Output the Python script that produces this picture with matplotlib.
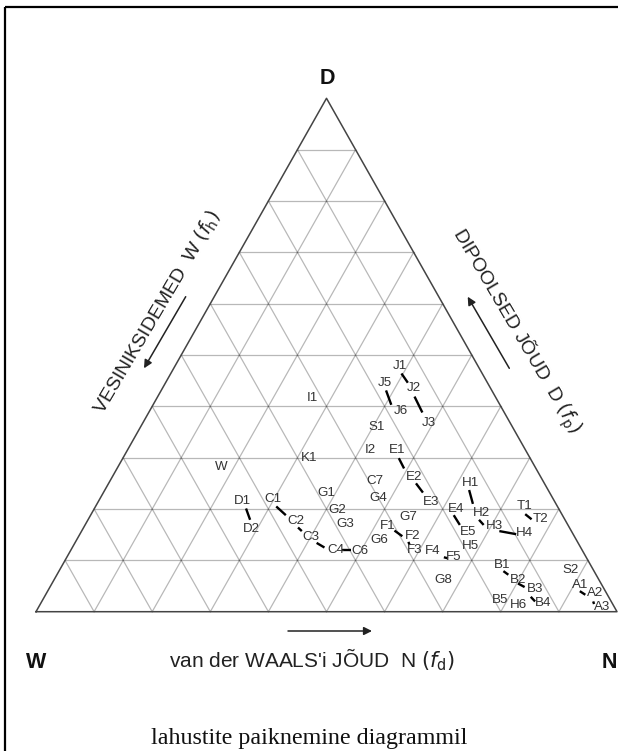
import matplotlib
matplotlib.use("Agg")
import matplotlib.pyplot as plt
import numpy as np

plt.rcParams['font.family'] = ['Liberation Sans', 'DejaVu Sans']
plt.rcParams['mathtext.fontset'] = 'dejavusans'

# ---- data: solvent label positions in ternary fractions (fd, fp); fh = 1 - fd - fp
names = ["J1", "J5", "J2", "I1", "J6", "J3", "S1", "I2", "E1", "K1", "W",
         "C7", "E2", "D1", "C1", "G1", "G4", "E3", "G2", "D2", "C2", "G3",
         "G7", "F1", "F2", "C3", "G6", "C4", "C6", "F3", "F4", "G8",
         "H1", "E4", "H2", "T1", "T2", "E5", "H3", "H4", "H5", "F5",
         "B1", "S2", "B2", "B3", "A1", "A2", "B5", "H6", "B4", "A3"]
fd = [0.386, 0.378, 0.432, 0.267, 0.432, 0.492, 0.407, 0.418, 0.465, 0.320, 0.178,
      0.455, 0.519, 0.247, 0.299, 0.384, 0.478, 0.573, 0.420, 0.291, 0.359, 0.448,
      0.549, 0.522, 0.574, 0.400, 0.521, 0.456, 0.499, 0.592, 0.623, 0.670,
      0.623, 0.622, 0.670, 0.738, 0.778, 0.666, 0.705, 0.765, 0.684, 0.666,
      0.756, 0.880, 0.799, 0.837, 0.910, 0.944, 0.787, 0.824, 0.865, 0.969]
fp = [0.479, 0.445, 0.435, 0.417, 0.391, 0.367, 0.359, 0.314, 0.314, 0.300, 0.282,
      0.255, 0.263, 0.216, 0.219, 0.231, 0.221, 0.214, 0.198, 0.161, 0.177, 0.170,
      0.184, 0.166, 0.147, 0.146, 0.140, 0.120, 0.118, 0.120, 0.119, 0.061,
      0.251, 0.201, 0.193, 0.205, 0.180, 0.156, 0.167, 0.153, 0.127, 0.107,
      0.091, 0.081, 0.062, 0.044, 0.052, 0.036, 0.023, 0.013, 0.016, 0.010]

# ---- connecting segments (start fd, start fp, end fd, end fp)
seg_fd0 = [0.397, 0.387, 0.442, 0.475, 0.529, 0.261, 0.311, 0.369, 0.416, 0.467,
           0.538, 0.573, 0.649, 0.627, 0.625, 0.673, 0.719, 0.747, 0.765, 0.802,
           0.837, 0.916, 0.949]
seg_fp0 = [0.464, 0.431, 0.419, 0.299, 0.250, 0.201, 0.205, 0.164, 0.134, 0.120,
           0.158, 0.136, 0.106, 0.237, 0.188, 0.179, 0.157, 0.190, 0.079, 0.055,
           0.029, 0.040, 0.020]
seg_fd1 = [0.417, 0.410, 0.471, 0.494, 0.550, 0.279, 0.336, 0.379, 0.434, 0.483,
           0.557, 0.578, 0.657, 0.647, 0.645, 0.686, 0.751, 0.763, 0.777, 0.817,
           0.849, 0.929, 0.953]
seg_fp1 = [0.446, 0.403, 0.388, 0.279, 0.232, 0.179, 0.188, 0.157, 0.125, 0.120,
           0.147, 0.130, 0.104, 0.210, 0.169, 0.169, 0.151, 0.180, 0.072, 0.048,
           0.020, 0.033, 0.015]

n_div = 10

# ---- layout helpers (pixel geometry of the reference)
W_PX, H_PX = 618, 751
X0, XW = 36.0, 581.0       # left vertex x, base width (px)
Y0, YH = 611.7, 513.4      # base y, height (px)


def P(x, y):
    return (x - X0) / XW, (Y0 - y) / YH


def tern(d, p):
    d = np.asarray(d, float)
    p = np.asarray(p, float)
    return d + p / 2.0, p


fig = plt.figure(figsize=(W_PX / 100, H_PX / 100), dpi=100)
ax = fig.add_axes([0, 0, 1, 1])
ax.set_xlim(P(0, 0)[0], P(W_PX, 0)[0])
ax.set_ylim(P(0, H_PX)[1], P(0, 0)[1])
ax.axis('off')

# frame (top and left)
fx0, fy0 = P(4.7, 6.7)
fx1, fy1 = P(W_PX + 2, H_PX + 2)
ax.plot([fx0, fx1], [fy0, fy0], color='black', lw=1.6, solid_capstyle='butt', clip_on=False)
ax.plot([fx0, fx0], [fy0, fy1], color='black', lw=1.6, solid_capstyle='butt', clip_on=False)

# grid
for k in range(1, n_div):
    f = k / n_div
    for (a, b) in [((0, f), (1 - f, f)),          # constant fp
                   ((f, 0), (f, 1 - f)),          # constant fd
                   ((1 - f, 0), (0, 1 - f))]:     # constant fh
        xs, ys = tern([a[0], b[0]], [a[1], b[1]])
        ax.plot(xs, ys, color='black', alpha=0.28, lw=0.9)

# outline
xs, ys = tern([0, 1, 0, 0], [0, 0, 1, 0])
ax.plot(xs, ys, color='#444444', lw=1.1)

# segments
for a, b, c, d in zip(seg_fd0, seg_fp0, seg_fd1, seg_fp1):
    xs, ys = tern([a, c], [b, d])
    ax.plot(xs, ys, color='black', lw=1.7, solid_capstyle='butt')

# labels
lx, ly = tern(fd, fp)
for nm, x, y in zip(names, lx, ly):
    ax.text(x, y, nm, ha='center', va='center', fontsize=9.6, color='#333333')

# vertex letters
ax.text(*P(327, 79), "D", ha='center', va='center', fontsize=15.5,
        fontweight='bold', color='#111111')
ax.text(*P(36, 663), "W", ha='center', va='center', fontsize=15.5,
        fontweight='bold', color='#111111')
ax.text(*P(617.5, 663), "N", ha='right', va='center', fontsize=15.5,
        fontweight='bold', color='#111111')

# axis titles
ax.text(*P(157, 312), r"VESINIKSIDEMED  W $(f_{\rm h})$", rotation=59.5,
        ha='center', va='center', fontsize=14, color='#222222',
        rotation_mode='anchor')
ax.text(*P(516, 331), r"DIPOOLSED JÕUD  D $(f_{\rm p})$", rotation=-59.5,
        ha='center', va='center', fontsize=14, color='#222222',
        rotation_mode='anchor')
ax.text(*P(312, 660), r"van der WAALS'i JÕUD  N $(f_{\rm d})$",
        ha='center', va='center', fontsize=15, color='#222222')

# arrows
arr = dict(arrowstyle='-|>', lw=1.1, color='#222222', mutation_scale=12,
           shrinkA=0, shrinkB=0)
ax.annotate("", xy=P(144, 368.3), xytext=P(185.7, 296.7), arrowprops=arr)
ax.annotate("", xy=P(467.7, 296.7), xytext=P(509.3, 368.3), arrowprops=arr)
ax.annotate("", xy=P(372, 631), xytext=P(288, 631), arrowprops=arr)

# caption
ax.text(*P(309, 744), "lahustite paiknemine diagrammil", ha='center',
        va='baseline', fontsize=17.3, family=['Liberation Serif', 'DejaVu Serif'],
        color='#111111')

fig.savefig("out.png", dpi=100, facecolor='white')
